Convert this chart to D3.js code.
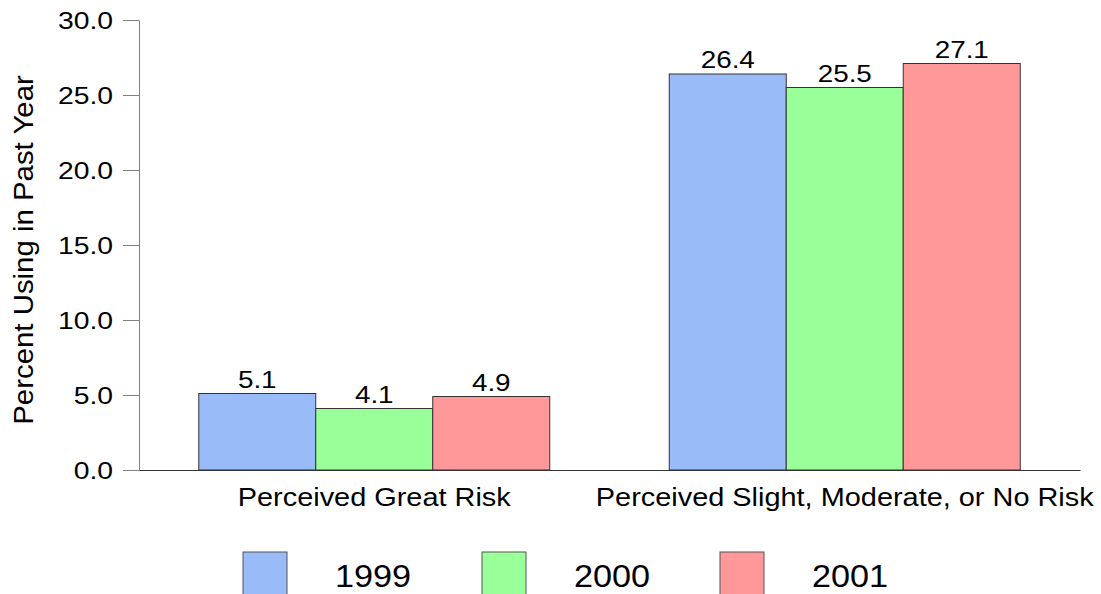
<!DOCTYPE html>
<html><head><meta charset="utf-8">
<script src="https://cdn.jsdelivr.net/npm/d3@7"></script>
<style>body{margin:0;background:#fff;} svg{display:block;} text{font-family:"Liberation Sans",Arial,sans-serif;fill:#000;}</style>
</head><body>
<svg id="c" width="1101" height="594"></svg>
<script>
const categories = ["Perceived Great Risk", "Perceived Slight, Moderate, or No Risk"];
const years = ["1999", "2000", "2001"];
const values1999 = [5.1, 26.4];
const values2000 = [4.1, 25.5];
const values2001 = [4.9, 27.1];
const yTicks = [0, 5, 10, 15, 20, 25, 30];
const colors = ["#99bbf8", "#99ff99", "#ff9999"];
const series = [values1999, values2000, values2001];

const FONT = '"Liberation Sans",Arial,sans-serif';
const svg = d3.select("#c");
const x0 = d3.scaleBand().domain(categories).range([139, 1080]).paddingInner(0.254).paddingOuter(0.127);
const x1 = d3.scaleBand().domain(years).range([0, x0.bandwidth()]);
const y = d3.scaleLinear().domain([0, 30]).range([470, 20]);

// bars
categories.forEach((cat, ci) => {
  years.forEach((yr, si) => {
    const v = series[si][ci];
    svg.append("rect")
      .attr("x", x0(cat) + x1(yr))
      .attr("y", y(v))
      .attr("width", x1.bandwidth())
      .attr("height", y(0) - y(v))
      .attr("fill", colors[si])
      .attr("stroke", "#333")
      .attr("stroke-width", 1);
    const cx = x0(cat) + x1(yr) + x1.bandwidth() / 2;
    svg.append("text")
      .attr("transform", `translate(${cx},${y(v) - 6}) scale(1.16,1)`)
      .attr("text-anchor", "middle")
      .style("font-size", "24px")
      .text(v.toFixed(1));
  });
});

// y axis
const yAxis = d3.axisLeft(y).tickValues(yTicks).tickFormat(d3.format(".1f")).tickSize(16).tickSizeOuter(0).tickPadding(10);
const gy = svg.append("g").attr("transform", "translate(139,0)").call(yAxis);
gy.select(".domain").attr("stroke", "#808080");
gy.selectAll(".tick line").attr("stroke", "#808080");
gy.selectAll(".tick text")
  .style("font-size", "24px").style("font-family", FONT).attr("fill", "#000")
  .attr("x", -26 / 1.18).attr("dy", "0.36em")
  .attr("transform", "scale(1.18,1)");

// x axis
const xAxis = d3.axisBottom(x0).tickSize(0).tickPadding(18);
const gx = svg.append("g").attr("transform", "translate(0,470)").call(xAxis);
gx.select(".domain").attr("stroke", "#333");
gx.selectAll(".tick text")
  .style("font-size", "25px").style("font-family", FONT).attr("fill", "#000")
  .attr("transform", "scale(1.156,1)");

// y title
svg.append("text")
  .attr("transform", "translate(33,250) rotate(-90) scale(1.05,1)")
  .attr("text-anchor", "middle")
  .style("font-size", "28px")
  .text("Percent Using in Past Year");

// legend
const legX = [243, 482, 720];
years.forEach((yr, i) => {
  svg.append("rect").attr("x", legX[i]).attr("y", 552).attr("width", 44).attr("height", 50)
    .attr("fill", colors[i]).attr("stroke", "#555").attr("stroke-width", 1);
  svg.append("text")
    .attr("transform", `translate(${legX[i] + 92},587) scale(1.07,1)`)
    .style("font-size", "32px").text(yr);
});
</script>
</body></html>
